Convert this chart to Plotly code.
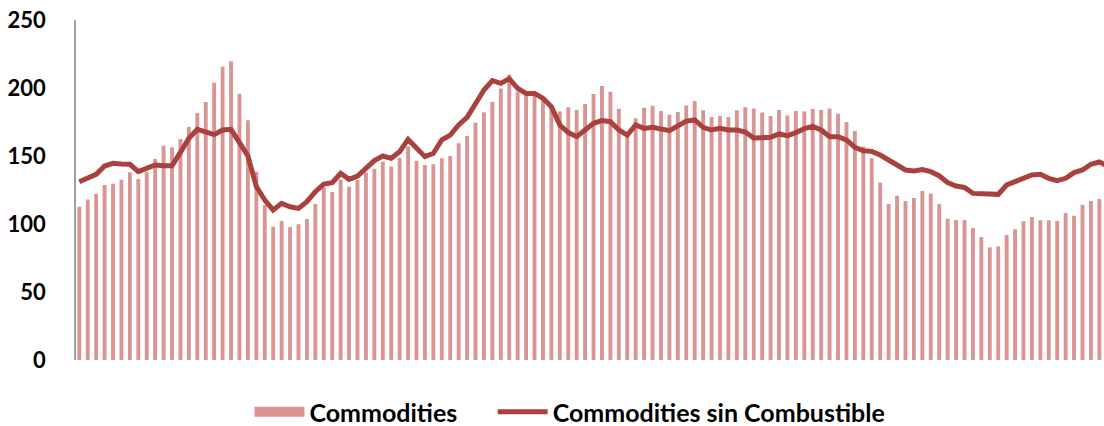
import plotly.graph_objects as go

periods = list(range(123))

commodities = [
    112.7, 118.1, 122.0, 128.7, 129.7, 132.6, 138.0, 133.1, 138.5, 147.8, 157.6, 156.4, 162.5, 171.3, 181.6, 189.7, 203.9, 215.7, 219.6, 195.8, 176.2,
    138.5, 114.0, 98.0, 102.2, 97.8, 99.8, 103.7, 114.7, 126.7, 123.5, 132.8, 127.5, 132.4, 137.8, 140.7, 145.8, 142.2, 148.8, 156.9, 146.5,
    143.4, 143.9, 148.3, 150.0, 159.3, 164.7, 174.5, 182.1, 189.7, 199.7, 210.0, 197.5, 194.5, 197.5, 191.0, 186.3, 182.8, 185.8, 183.8, 188.2,
    195.6, 201.5, 197.3, 184.8, 167.0, 177.8, 185.5, 187.0, 183.1, 180.4, 182.4, 187.2, 190.4, 183.6, 178.7, 179.4, 178.7, 183.6, 185.8, 185.0,
    181.9, 179.4, 183.8, 179.7, 183.1, 182.8, 184.6, 183.8, 185.0, 181.1, 175.0, 168.4, 156.9, 148.3, 130.6, 114.7, 120.8, 116.9, 119.1, 124.3, 122.5,
    114.7, 103.9, 102.9, 102.9, 97.1, 90.4, 82.8, 83.6, 91.9, 96.1, 102.0, 105.1, 102.7, 102.7, 102.2, 108.1, 106.1, 114.2, 116.9, 118.4,
    None,
]

sin_combustible = [
    131.1, 134.3, 136.5, 142.6, 144.6, 144.1, 143.9, 138.5, 141.4, 143.4, 142.9, 142.9, 152.7, 163.0, 169.6, 167.9, 165.7, 169.1, 169.6, 159.8, 150.0,
    127.5, 117.6, 110.3, 115.2, 112.7, 111.5, 116.4, 123.8, 129.4, 130.4, 137.3, 132.8, 135.3, 140.9, 146.6, 150.0, 148.3, 153.2, 162.2, 155.8,
    149.5, 152.0, 161.8, 165.4, 172.8, 178.4, 188.7, 198.5, 205.4, 203.4, 206.9, 199.7, 196.0, 196.0, 192.4, 186.3, 172.8, 167.2, 164.2, 169.1,
    174.0, 176.0, 175.2, 169.1, 165.4, 172.8, 170.3, 171.1, 170.1, 168.6, 172.1, 175.7, 176.5, 171.1, 169.1, 170.3, 169.1, 169.1, 167.6, 163.2,
    163.5, 163.7, 166.2, 164.9, 167.2, 170.1, 171.8, 169.1, 164.2, 164.2, 161.8, 156.4, 153.9, 153.4, 150.7, 146.6, 143.4, 139.7, 139.0, 140.0, 138.5,
    135.5, 130.4, 127.9, 126.9, 122.5, 122.5, 122.2, 121.8, 128.7, 131.1, 132.8, 136.0, 136.5, 133.6, 131.9, 133.6, 137.8, 139.7, 143.9, 145.6,
    142.5,
]

y_ticks = [0, 50, 100, 150, 200, 250]

FONT = "Lato"
BAR_COLOR = "#D99594"
LINE_COLOR = "#A9413E"
GAP = "\u00a0" * 5

fig = go.Figure()
fig.add_trace(go.Bar(
    x=periods, y=commodities, name="Commodities",
    marker=dict(color=BAR_COLOR, line=dict(width=0)),
    width=0.46, showlegend=False, legendgroup="c",
))
# legend swatch for the bars (wide rectangle like the original)
fig.add_trace(go.Scatter(
    x=[None], y=[None], name="Commodities" + GAP, mode="lines",
    line=dict(color=BAR_COLOR, width=15), legendgroup="c",
))
fig.add_trace(go.Scatter(
    x=periods, y=sin_combustible, name="Commodities sin Combustible",
    mode="lines", line=dict(color=LINE_COLOR, width=5),
))

fig.update_layout(
    width=1104, height=426,
    margin=dict(l=76, r=0, t=20, b=66, autoexpand=False),
    paper_bgcolor="white", plot_bgcolor="white",
    showlegend=True,
    legend=dict(
        orientation="h", x=0.4805, xanchor="center", y=-0.153, yanchor="middle",
        font=dict(family=FONT, size=25, color="black", weight="bold"),
        itemwidth=50, traceorder="normal", tracegroupgap=0,
    ),
)
fig.update_xaxes(
    range=[-0.39, 121.55], showticklabels=False, showgrid=False,
    zeroline=False, showline=False, ticks="", automargin=False,
)
fig.update_yaxes(
    range=[0, 250], tickvals=y_ticks, showgrid=False, zeroline=False,
    showline=True, linecolor="#A0A0A0", linewidth=1.5, ticks="",
    ticklabelstandoff=24, automargin=False, ticklabeloverflow="allow",
    tickfont=dict(family=FONT, size=22, color="black", weight="bold"),
)

fig.write_html(
    "out.html",
    config={"displayModeBar": False},
    post_script="document.body.style.margin='0px';document.body.style.overflow='hidden';",
)
